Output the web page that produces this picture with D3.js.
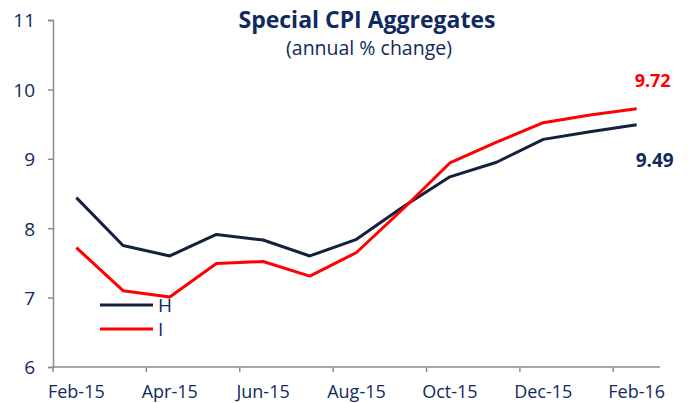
<!DOCTYPE html>
<html>
<head>
<meta charset="utf-8">
<script src="https://cdn.jsdelivr.net/npm/d3@7"></script>
<style>
  body { margin: 0; background: #fff; }
  text { font-family: "Open Sans", sans-serif; }
</style>
</head>
<body>
<div id="chart"></div>
<script>
const svgWidth = 692, svgHeight = 403;

const months = ['Feb-15', 'Mar-15', 'Apr-15', 'May-15', 'Jun-15', 'Jul-15', 'Aug-15',
  'Sep-15', 'Oct-15', 'Nov-15', 'Dec-15', 'Jan-16', 'Feb-16'];
const seriesH = [8.44, 7.75, 7.60, 7.91, 7.83, 7.60, 7.84, 8.31, 8.74, 8.95, 9.28, 9.39, 9.49];
const seriesI = [7.72, 7.10, 7.01, 7.49, 7.52, 7.31, 7.65, 8.28, 8.94, 9.24, 9.52, 9.63, 9.72];
const yTicks = [6, 7, 8, 9, 10, 11];

const navy = '#0f2a5e';
const lineNavy = '#14213d';
const red = '#ff0000';
const axisGrey = '#8c8c8c';

const svg = d3.select('#chart')
  .append('svg')
  .attr('width', svgWidth)
  .attr('height', svgHeight);

const x = d3.scaleBand()
  .domain(months)
  .range([53, 660])
  .paddingInner(0)
  .paddingOuter(0);
const y = d3.scaleLinear()
  .domain([6, 11])
  .range([367, 20]);

// y axis
const yAxis = svg.append('g')
  .attr('transform', `translate(${x.range()[0]},0)`)
  .call(d3.axisLeft(y).tickValues(yTicks).tickSize(5).tickPadding(13).tickFormat(d3.format('d')));
yAxis.select('.domain').attr('stroke', axisGrey).attr('stroke-width', 1.5);
yAxis.selectAll('.tick line').attr('stroke', axisGrey).attr('stroke-width', 1.5);
yAxis.selectAll('.tick text')
  .attr('fill', navy)
  .attr('font-size', 19)
  .attr('font-family', '"Open Sans", sans-serif')
  .attr('dy', '0.36em');

// x axis: ticks at category boundaries, labels on every other category
const xAxis = svg.append('g');
xAxis.append('line')
  .attr('x1', x.range()[0]).attr('x2', x.range()[1])
  .attr('y1', y(6)).attr('y2', y(6))
  .attr('stroke', axisGrey).attr('stroke-width', 1.5);
const shown = months.filter((m, i) => i % 2 === 0);
xAxis.selectAll('line.tick')
  .data(shown)
  .enter()
  .append('line')
  .attr('class', 'tick')
  .attr('x1', d => x(d)).attr('x2', d => x(d))
  .attr('y1', y(6)).attr('y2', y(6) + 5)
  .attr('stroke', axisGrey).attr('stroke-width', 1.5);
xAxis.selectAll('text')
  .data(shown)
  .enter()
  .append('text')
  .attr('x', d => x(d) + x.bandwidth() / 2)
  .attr('y', y(6) + 31)
  .attr('text-anchor', 'middle')
  .attr('fill', navy)
  .attr('font-size', 18)
  .text(d => d);

// lines
const line = d3.line()
  .x((d, i) => x(months[i]) + x.bandwidth() / 2)
  .y(d => y(d));

svg.append('path')
  .datum(seriesH)
  .attr('fill', 'none')
  .attr('stroke', lineNavy)
  .attr('stroke-width', 3)
  .attr('stroke-linejoin', 'round')
  .attr('d', line);

svg.append('path')
  .datum(seriesI)
  .attr('fill', 'none')
  .attr('stroke', red)
  .attr('stroke-width', 3)
  .attr('stroke-linejoin', 'round')
  .attr('d', line);

// title
svg.append('text')
  .attr('x', 367)
  .attr('y', 28)
  .attr('text-anchor', 'middle')
  .attr('fill', navy)
  .attr('font-size', 23)
  .attr('font-weight', 'bold')
  .text('Special CPI Aggregates');
svg.append('text')
  .attr('x', 369)
  .attr('y', 55)
  .attr('text-anchor', 'middle')
  .attr('fill', navy)
  .attr('font-size', 19.5)
  .text('(annual % change)');

// end labels
const lastX = x(months[months.length - 1]) + x.bandwidth() / 2;
svg.append('text')
  .attr('x', lastX + 16)
  .attr('y', 87)
  .attr('text-anchor', 'middle')
  .attr('fill', red)
  .attr('font-size', 18)
  .attr('font-weight', 'bold')
  .text(d3.format('.2f')(seriesI[seriesI.length - 1]));
svg.append('text')
  .attr('x', lastX + 18)
  .attr('y', 167)
  .attr('text-anchor', 'middle')
  .attr('fill', navy)
  .attr('font-size', 19)
  .attr('font-weight', 'bold')
  .text(d3.format('.2f')(seriesH[seriesH.length - 1]));

// legend
const legend = svg.append('g').attr('transform', 'translate(100,305)');
const legendItems = [{ label: 'H', color: lineNavy }, { label: 'I', color: red }];
const row = legend.selectAll('g')
  .data(legendItems)
  .enter()
  .append('g')
  .attr('transform', (d, i) => `translate(0,${i * 24})`);
row.append('line')
  .attr('x1', 0).attr('x2', 53)
  .attr('stroke', d => d.color)
  .attr('stroke-width', 3);
row.append('text')
  .attr('x', 58)
  .attr('y', 7)
  .attr('fill', navy)
  .attr('font-size', 19)
  .text(d => d.label);
</script>
</body>
</html>
